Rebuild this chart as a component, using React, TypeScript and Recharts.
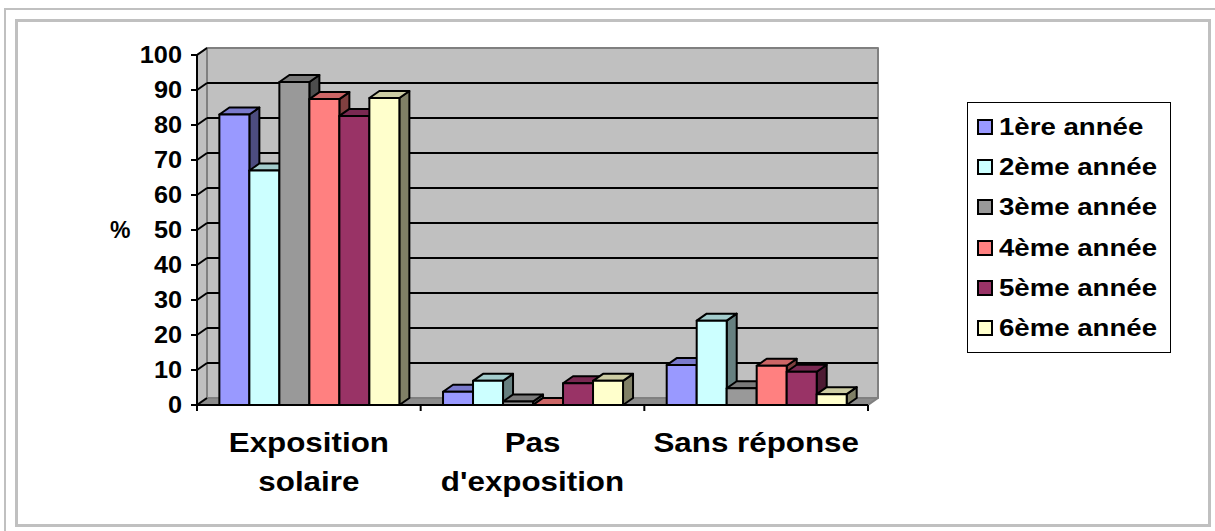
import React from 'react';
import { BarChart, Bar, XAxis, YAxis, CartesianGrid, Legend } from 'recharts';

// categories (line break = label wrap)
const categories = ['Exposition\nsolaire', "Pas\nd'exposition", 'Sans réponse'];
const seriesNames = ['1ère année', '2ème année', '3ème année', '4ème année', '5ème année', '6ème année'];
const seriesColors = ['#9999FF', '#CCFFFF', '#999999', '#FF8080', '#993366', '#FFFFCC'];

// % per category, one list per year
const annee1 = [83, 3.8, 11.4];
const annee2 = [67, 6.9, 24.1];
const annee3 = [92.3, 1, 4.8];
const annee4 = [87.4, 0, 11.2];
const annee5 = [82.6, 6.2, 9.5];
const annee6 = [87.7, 6.9, 3.1];

const yTicks = [0, 10, 20, 30, 40, 50, 60, 70, 80, 90, 100];

const seriesValues = [annee1, annee2, annee3, annee4, annee5, annee6];
const data = categories.map((name, i) => {
  const row: Record<string, any> = { name };
  seriesValues.forEach((vals, s) => {
    row[`s${s}`] = vals[i];
  });
  return row;
});

const DX = 10;
const DY = 7;
const FONT = 'Arial, "Liberation Sans", Helvetica, sans-serif';

function shade(hex: string, f: number) {
  const n = parseInt(hex.slice(1), 16);
  const r = Math.round(((n >> 16) & 255) * f);
  const g = Math.round(((n >> 8) & 255) * f);
  const b = Math.round((n & 255) * f);
  return `rgb(${r},${g},${b})`;
}

const Bar3D = (props: any) => {
  const { x, y, width, height, fill } = props;
  if (x == null || y == null) return null;
  const w = width;
  const h = height || 0;
  return (
    <g stroke="#000" strokeWidth={2} strokeLinejoin="round">
      <polygon
        points={`${x + w},${y} ${x + w + DX},${y - DY} ${x + w + DX},${y + h - DY} ${x + w},${y + h}`}
        fill={shade(fill, 0.5)}
      />
      <polygon
        points={`${x},${y} ${x + DX},${y - DY} ${x + w + DX},${y - DY} ${x + w},${y}`}
        fill={shade(fill, 0.8)}
      />
      <rect x={x} y={y} width={w} height={h} fill={fill} />
    </g>
  );
};

// back wall, side wall and floor are drawn with the first grid line,
// every grid line then goes across the side wall and the back wall
const WallLine = (props: any) => {
  const { x1, x2, y1, index, x, y, width, height } = props;
  const bottom = y + height;
  const isEdge = Math.abs(y1 - y) < 0.5 || Math.abs(y1 - bottom) < 0.5;
  return (
    <g>
      {index === 0 && (
        <g strokeWidth={2} stroke="#808080" strokeLinejoin="round">
          <polygon
            points={`${x + DX},${y - DY} ${x + width + DX},${y - DY} ${x + width + DX},${bottom - DY} ${x + DX},${bottom - DY}`}
            fill="#C0C0C0"
          />
          <polygon points={`${x},${y} ${x + DX},${y - DY} ${x + DX},${bottom - DY} ${x},${bottom}`} fill="#C0C0C0" />
          <polygon
            points={`${x},${bottom} ${x + DX},${bottom - DY} ${x + width + DX},${bottom - DY} ${x + width},${bottom}`}
            fill="#8C8C8C"
          />
        </g>
      )}
      <line x1={x1} y1={y1} x2={x1 + DX} y2={y1 - DY} stroke="#000" strokeWidth={2} />
      {!isEdge && (
        <line x1={x1 + DX} y1={y1 - DY} x2={x2 + DX} y2={y1 - DY} stroke="#000" strokeWidth={2} />
      )}
    </g>
  );
};

const YTick = (props: any) => {
  const { x, y, payload } = props;
  return (
    <text
      transform={`translate(${x},${y}) scale(1.1,1)`}
      textAnchor="end"
      dy="0.36em"
      fontSize={23}
      fontWeight="bold"
      fontFamily={FONT}
      fill="#000"
    >
      {payload.value}
    </text>
  );
};

const CategoryTick = (props: any) => {
  const { x, y, payload, index } = props;
  const half = payload.offset ?? 0;
  const lines = String(payload.value).split('\n');
  return (
    <g>
      <line x1={x - half} y1={y} x2={x - half} y2={y + 6} stroke="#000" strokeWidth={2} />
      {index === categories.length - 1 && (
        <line x1={x + half} y1={y} x2={x + half} y2={y + 6} stroke="#000" strokeWidth={2} />
      )}
      {lines.map((t, i) => (
        <text
          key={i}
          transform={`translate(${x},${y + 47 + i * 39}) scale(1.14,1)`}
          textAnchor="middle"
          fontSize={27.5}
          fontWeight="bold"
          fontFamily={FONT}
          fill="#000"
        >
          {t}
        </text>
      ))}
    </g>
  );
};

const LegendBox = () => (
  <div
    style={{
      boxSizing: 'border-box',
      width: 204,
      height: 251,
      border: '1.5px solid #000',
      background: '#fff',
      paddingTop: 4,
      paddingLeft: 9,
      fontFamily: FONT,
    }}
  >
    {seriesNames.map((n, i) => (
      <div key={n} style={{ height: 40.2, display: 'flex', alignItems: 'center' }}>
        <span
          style={{
            width: 16,
            height: 16,
            boxSizing: 'border-box',
            border: '2px solid #000',
            background: seriesColors[i],
            flexShrink: 0,
          }}
        />
        <span
          style={{
            marginLeft: 6,
            fontSize: 24,
            fontWeight: 'bold',
            color: '#000',
            whiteSpace: 'nowrap',
            transform: 'scaleX(1.15)',
            transformOrigin: 'left center',
          }}
        >
          {n}
        </span>
      </div>
    ))}
  </div>
);

export default function App() {
  return (
    <div
      style={{
        position: 'absolute',
        left: 0,
        top: 0,
        width: 1215,
        height: 531,
        overflow: 'hidden',
        background: '#fff',
      }}
    >
      <div
        style={{
          position: 'absolute',
          left: 4,
          top: 8,
          width: 1400,
          height: 700,
          border: '2.5px solid #C0C0C0',
        }}
      />
      <div
        style={{
          position: 'absolute',
          left: 15,
          top: 19,
          width: 1196,
          height: 508,
          boxSizing: 'border-box',
          border: '3.5px solid #C0C0C0',
        }}
      />
      <div style={{ position: 'absolute', left: 0, top: 0 }}>
        <BarChart
          width={1215}
          height={531}
          data={data}
          margin={{ top: 55, right: 347, bottom: 26, left: 0 }}
          barCategoryGap="10%"
          barGap={0}
        >
          <CartesianGrid horizontal={WallLine} vertical={false} />
          <XAxis
            dataKey="name"
            axisLine={{ stroke: '#000', strokeWidth: 2 }}
            tickLine={false}
            tickSize={0}
            tickMargin={0}
            height={100}
            interval={0}
            tick={(p: any) => <CategoryTick {...p} />}
          />
          <YAxis
            domain={[0, 100]}
            ticks={yTicks}
            interval={0}
            width={197}
            axisLine={{ stroke: '#000', strokeWidth: 2 }}
            tickLine={{ stroke: '#000', strokeWidth: 2 }}
            tickSize={6}
            tickMargin={9}
            tick={(p: any) => <YTick {...p} />}
            label={{
              value: '%',
              position: 'insideLeft',
              offset: 110,
              style: { fontSize: 23, fontWeight: 'bold', fontFamily: FONT, fill: '#000' },
            }}
          />
          <Legend
            layout="vertical"
            align="center"
            verticalAlign="middle"
            wrapperStyle={{ left: 967, top: 102, width: 204, height: 251 }}
            content={() => <LegendBox />}
          />
          {seriesNames.map((n, i) => (
            <Bar
              key={n}
              dataKey={`s${i}`}
              name={n}
              fill={seriesColors[i]}
              isAnimationActive={false}
              shape={Bar3D}
            />
          ))}
        </BarChart>
      </div>
    </div>
  );
}
